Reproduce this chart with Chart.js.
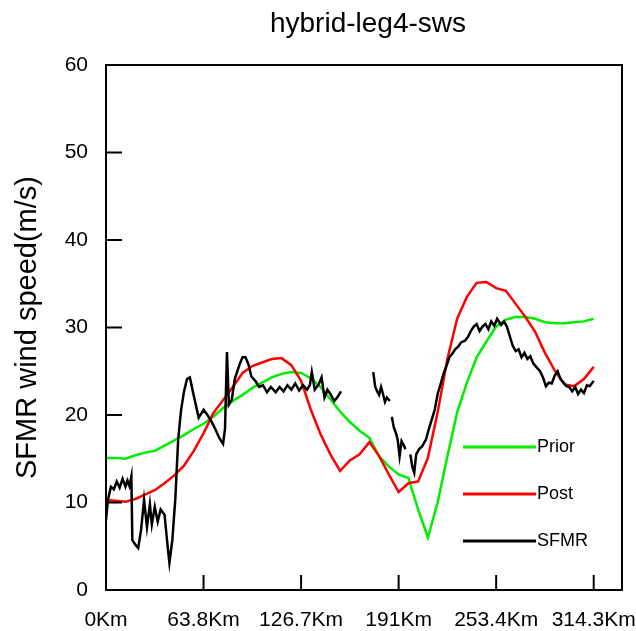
<!DOCTYPE html>
<html>
<head>
<meta charset="utf-8">
<script src="https://cdn.jsdelivr.net/npm/chart.js@4/dist/chart.umd.min.js"></script>
<style>
  html, body { margin: 0; padding: 0; background: #fff; }
  canvas { display: block; }
</style>
</head>
<body>
<canvas id="myChart" width="636" height="631"></canvas>
<script>
// tick labels along the track (ticks every 100 samples)
const tickLabels = ['0Km', '63.8Km', '126.7Km', '191Km', '253.4Km', '314.3Km']
const yTicks = [0, 10, 20, 30, 40, 50, 60]

// model runs, one value every 10 samples (0..500)
const modelStep = 10
const priorSpeed = [
  15.1, 15.1, 15.0, 15.4, 15.7, 15.9, 16.5, 17.1, 17.7, 18.4,
  19.0, 19.8, 20.8, 21.6, 22.3, 23.1, 23.7, 24.3, 24.7, 24.9,
  24.8, 24.2, 23.2, 21.8, 20.4, 19.2, 18.2, 17.4, 15.3, 14.1,
  13.2, 12.8, 9.2, 6.0, 10.0, 15.3, 20.3, 23.7, 26.6, 28.4,
  30.1, 30.9, 31.2, 31.2, 31.0, 30.6, 30.5, 30.5, 30.6, 30.7, 31.0
]
const postSpeed = [
  10.3, 10.2, 10.1, 10.4, 10.9, 11.4, 12.2, 13.1, 14.2, 15.9,
  17.9, 20.2, 21.7, 23.2, 24.8, 25.6, 26.0, 26.4, 26.5, 25.7,
  23.9, 20.6, 17.8, 15.5, 13.6, 14.8, 15.5, 16.9, 15.3, 13.2,
  11.2, 12.2, 12.4, 15.1, 20.3, 26.4, 31.0, 33.5, 35.1, 35.2,
  34.5, 34.2, 32.7, 31.2, 29.5, 27.1, 25.1, 23.5, 23.3, 24.1, 25.5
]

// SFMR observations (sample index, speed); null = missing data
const sfmrX = [
  0, 2, 5, 8, 11, 14, 17, 20, 22, 24, 26, 27, 30, 33, 36, 39, 42, 45, 47, 50,
  53, 56, 60, 63, 65, 68, 71, 74, 77, 80, 83, 86, 89, 92, 95, 100, 104, 108, 112, 116,
  120, 122, 124, 126, 129, 132, 137, 140, 143, 146, 149, 153, 157, 161, 165, 169, 174, 178, 182, 186,
  190, 194, 198, 202, 206, 209, 211, 214, 218, 221, 224, 227, 230, 234, 237, 241, 260, 274, 276, 278,
  280, 282, 284, 286, 288, 291, 292, 293, 295, 297, 299, 301, 303, 305, 307, 310, 312, 314, 316, 318,
  321, 324, 328, 331, 334, 337, 340, 343, 346, 349, 352, 355, 358, 361, 364, 368, 371, 374, 377, 380,
  383, 386, 389, 392, 395, 398, 401, 405, 408, 411, 414, 417, 420, 423, 426, 429, 432, 435, 438, 441,
  445, 448, 451, 454, 457, 460, 463, 466, 469, 472, 475, 478, 481, 484, 487, 490, 493, 496, 500
]
const sfmrSpeed = [
  8.0, 10.3, 11.8, 11.5, 12.4, 11.7, 12.7, 11.8, 12.5, 11.9, 13.0, 5.7, 5.2, 4.8, 6.9, 10.3, 7.2, 9.8, 7.5, 9.5,
  7.8, 9.2, 8.6, 5.2, 3.1, 5.7, 10.3, 17.2, 20.6, 22.7, 24.1, 24.3, 22.7, 21.2, 19.7, 20.6, 20.0, 19.3, 18.4, 17.4,
  16.7, 18.4, 27.2, 21.2, 21.8, 24.1, 25.8, 26.6, 26.6, 25.8, 24.4, 23.9, 23.2, 23.4, 22.6, 23.2, 22.6, 23.2, 22.7, 23.4,
  22.9, 23.6, 22.8, 23.4, 22.9, 23.4, 24.9, 22.9, 23.5, 24.3, 22.0, 22.9, 22.4, 21.6, 22.0, 22.7, null, 24.9, 23.2, 22.7,
  22.3, 23.2, 22.4, 21.5, 22.0, 21.6, null, 19.8, 18.6, 18.0, 17.2, 15.3, 17.0, 16.6, 16.1, null, 15.5, 14.1, 13.4, 15.5,
  16.1, 16.4, 17.2, 18.4, 19.5, 20.6, 22.4, 23.5, 24.7, 25.6, 26.6, 27.0, 27.5, 27.8, 28.3, 28.5, 28.9, 29.6, 30.1, 30.4,
  29.6, 30.1, 30.4, 29.8, 30.7, 30.2, 31.0, 30.3, 30.7, 30.1, 29.0, 27.9, 27.3, 27.5, 26.6, 27.1, 26.4, 26.7, 25.9, 25.5,
  25.0, 24.3, 23.3, 23.7, 23.6, 24.5, 25.0, 24.1, 23.7, 23.3, 23.2, 22.7, 23.2, 22.4, 22.9, 22.5, 23.4, 23.3, 23.9
]

const toPoints = (xs, ys) => ys.map((y, i) => ({ x: xs[i], y: y }))
const modelX = priorSpeed.map((v, i) => i * modelStep)

Chart.defaults.font.family = "'Liberation Sans', Arial, sans-serif"
Chart.defaults.color = '#000'

// frame, inward tick marks, title and legend like the original plot
const framePlugin = {
  id: 'frame',
  afterDraw(chart) {
    const ctx = chart.ctx
    const a = chart.chartArea
    const xs = chart.scales.x
    const ys = chart.scales.y
    ctx.save()
    ctx.strokeStyle = '#000'
    ctx.lineWidth = 2
    ctx.strokeRect(a.left, a.top, a.right - a.left, a.bottom - a.top)

    ctx.beginPath()
    ys.ticks.forEach(t => {
      const py = ys.getPixelForValue(t.value)
      ctx.moveTo(a.left, py)
      ctx.lineTo(a.left + 16, py)
    })
    xs.ticks.forEach(t => {
      const px = xs.getPixelForValue(t.value)
      ctx.moveTo(px, a.bottom)
      ctx.lineTo(px, a.bottom - 15)
    })
    ctx.stroke()

    // title
    ctx.fillStyle = '#000'
    ctx.font = "28px 'Liberation Sans', Arial, sans-serif"
    ctx.textAlign = 'center'
    ctx.textBaseline = 'alphabetic'
    ctx.fillText('hybrid-leg4-sws', (a.left + a.right) / 2 + 4, 32)

    // legend
    const legendOrder = [2, 1, 0]
    ctx.font = "18px 'Liberation Sans', Arial, sans-serif"
    ctx.textAlign = 'left'
    ctx.textBaseline = 'middle'
    legendOrder.forEach((di, row) => {
      const ds = chart.data.datasets[di]
      const ly = a.top + 382 + row * 47
      ctx.strokeStyle = ds.borderColor
      ctx.lineWidth = 3
      ctx.beginPath()
      ctx.moveTo(a.left + 357, ly)
      ctx.lineTo(a.left + 430, ly)
      ctx.stroke()
      ctx.fillText(ds.label, a.left + 431, ly)
    })
    ctx.restore()
  }
}

const ctx = document.getElementById('myChart')
new Chart(ctx, {
  type: 'line',
  data: {
    datasets: [
      {
        label: 'SFMR',
        data: toPoints(sfmrX, sfmrSpeed),
        borderColor: '#000000',
        borderWidth: 2.5,
        pointRadius: 0,
        tension: 0,
        spanGaps: false
      },
      {
        label: 'Post',
        data: toPoints(modelX, postSpeed),
        borderColor: '#ff0000',
        borderWidth: 2.5,
        pointRadius: 0,
        tension: 0
      },
      {
        label: 'Prior',
        data: toPoints(modelX, priorSpeed),
        borderColor: '#00ee00',
        borderWidth: 2.5,
        pointRadius: 0,
        tension: 0
      }
    ]
  },
  options: {
    responsive: false,
    animation: false,
    devicePixelRatio: 1,
    layout: { padding: { top: 65, right: 14, left: 0, bottom: 0 } },
    plugins: {
      legend: { display: false },
      title: { display: false },
      tooltip: { enabled: false }
    },
    scales: {
      x: {
        type: 'linear',
        min: 0,
        max: 529,
        grid: { display: false, drawTicks: false },
        border: { display: false },
        afterBuildTicks: scale => {
          scale.ticks = tickLabels.map((l, i) => ({ value: i * 100 }))
        },
        ticks: {
          font: { size: 21 },
          padding: 18,
          maxRotation: 0,
          autoSkip: false,
          callback: value => tickLabels[Math.round(value / 100)]
        },
        afterFit: scale => {
          scale.height = 41
          scale.paddingLeft = 0
          scale.paddingRight = 0
        }
      },
      y: {
        min: 0,
        max: 60,
        grid: { display: false, drawTicks: false },
        border: { display: false },
        afterBuildTicks: scale => {
          scale.ticks = yTicks.map(v => ({ value: v }))
        },
        ticks: {
          font: { size: 21 },
          padding: 18
        },
        title: {
          display: true,
          text: 'SFMR wind speed(m/s)',
          font: { size: 29 },
          padding: { top: 11, bottom: 0 }
        },
        afterFit: scale => {
          scale.width = 106
        }
      }
    }
  },
  plugins: [framePlugin]
})
</script>
</body>
</html>
